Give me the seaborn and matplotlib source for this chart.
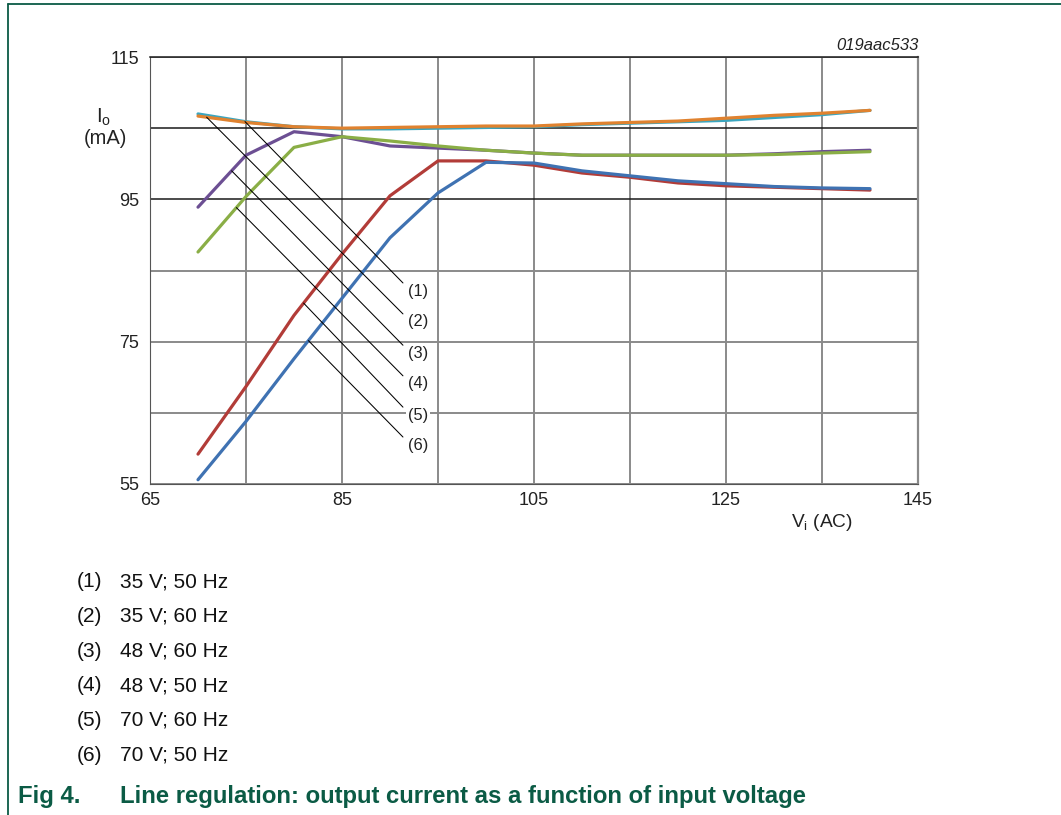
# Line regulation chart: output current vs input voltage for six supply settings
import numpy as np
import pandas as pd
import matplotlib.pyplot as plt
from matplotlib.lines import Line2D
import seaborn as sns

# Input voltage (V AC)
vin = [70, 75, 80, 85, 90, 95, 100, 105, 110, 115, 120, 125, 130, 135, 140]

# Output current (mA) for each curve
io_35v_50hz = [107.0, 105.9, 105.2, 104.9, 104.9, 105.0, 105.1, 105.2, 105.5, 105.7, 105.9, 106.1, 106.5, 106.9, 107.5]
io_35v_60hz = [106.7, 105.8, 105.2, 105.0, 105.1, 105.2, 105.3, 105.3, 105.6, 105.8, 106.0, 106.4, 106.8, 107.1, 107.5]
io_48v_60hz = [93.9, 101.2, 104.5, 103.8, 102.5, 102.2, 101.9, 101.5, 101.2, 101.2, 101.2, 101.2, 101.4, 101.7, 101.9]
io_48v_50hz = [87.6, 95.4, 102.3, 103.8, 103.2, 102.5, 101.9, 101.5, 101.2, 101.2, 101.2, 101.2, 101.3, 101.5, 101.7]
io_70v_60hz = [59.2, 68.7, 78.7, 87.3, 95.5, 100.4, 100.4, 99.8, 98.7, 98.1, 97.3, 96.9, 96.7, 96.5, 96.3]
io_70v_50hz = [55.6, 63.8, 72.6, 81.1, 89.6, 95.9, 100.2, 100.1, 99.0, 98.3, 97.6, 97.2, 96.8, 96.6, 96.5]

labels = ["(1)", "(2)", "(3)", "(4)", "(5)", "(6)"]
conditions = ["35 V; 50 Hz", "35 V; 60 Hz", "48 V; 60 Hz", "48 V; 50 Hz", "70 V; 60 Hz", "70 V; 50 Hz"]
series = [io_35v_50hz, io_35v_60hz, io_48v_60hz, io_48v_50hz, io_70v_60hz, io_70v_50hz]
colors = ["#3aa6c0", "#e0822f", "#6c4f93", "#8aae46", "#b23c38", "#3f72b2"]

# Where each callout leader line touches its curve (V), and where it ends
leader_v = [74.9, 70.9, 73.5, 74.0, 81.0, 81.5]
leader_end_v = 91.35
leader_end_io = [83.25, 78.9, 74.5, 70.2, 65.8, 61.6]

# Long-form table for seaborn
df = pd.DataFrame({
    "vin": vin * len(series),
    "io": np.concatenate(series),
    "curve": np.repeat(labels, len(vin)),
})

sns.set_style("white")
plt.rcParams["font.family"] = ["Liberation Sans", "DejaVu Sans"]
plt.rcParams["mathtext.fontset"] = "custom"
plt.rcParams["mathtext.rm"] = "Liberation Sans"
plt.rcParams["mathtext.it"] = "Liberation Sans:italic"

fig = plt.figure(figsize=(10.61, 8.15), dpi=100)
ax = fig.add_axes([150 / 1061, 1 - 484 / 815, 768 / 1061, 427 / 815])

# Curves
sns.lineplot(data=df, x="vin", y="io", hue="curve", palette=dict(zip(labels, colors)),
             linewidth=2.3, legend=False, ax=ax, zorder=3)

# Axes, ticks and grid
ax.set_xlim(65, 145)
ax.set_ylim(55, 115)
xt = np.arange(65, 146, 10)
yt = np.arange(55, 116, 10)
ax.set_xticks(xt)
ax.set_yticks(yt)
ax.set_xticklabels([str(v) if (v - 65) % 20 == 0 else "" for v in xt])
ax.set_yticklabels([str(v) if (v - 55) % 20 == 0 else "" for v in yt])
ax.tick_params(length=0, labelsize=13, colors="#222222")
ax.tick_params(axis="y", pad=8)
ax.tick_params(axis="x", pad=6)
ax.set_xlabel("")
ax.set_ylabel("")
ax.grid(True, color="#8a8a8a", linewidth=1.4)
for val, gl in zip(yt, ax.get_ygridlines()):
    if val in (95, 105):
        gl.set_color("#1a1a1a")
        gl.set_linewidth(1.1)
ax.set_axisbelow(True)
ax.spines["top"].set_color("#1a1a1a")
ax.spines["top"].set_linewidth(1.1)
ax.spines["left"].set_color("#555555")
ax.spines["bottom"].set_color("#555555")
ax.spines["right"].set_color("#8a8a8a")
ax.spines["right"].set_linewidth(1.6)

# Callout leader lines and numbers
for lab, vals, lv, ey in zip(labels, series, leader_v, leader_end_io):
    sy = np.interp(lv, vin, vals)
    ax.plot([lv, leader_end_v], [sy, ey], color="black", linewidth=0.75, zorder=4)
    ax.annotate(lab, xy=(leader_end_v, ey), xytext=(3.6, -5.8), textcoords="offset points",
                ha="left", va="center", fontsize=11.8, color="#222222", zorder=5,
                bbox=dict(boxstyle="square,pad=0.12", fc="white", ec="none"))

# Axis labels
ax.text(-0.0600, 0.858, "I$_\\mathrm{o}$", transform=ax.transAxes, ha="center", va="center",
        fontsize=14.5, color="#222222")
ax.text(-0.0586, 0.809, "(mA)", transform=ax.transAxes, ha="center", va="center",
        fontsize=14.5, color="#222222")
ax.text(0.875, -0.090, "V$_\\mathrm{i}$ (AC)", transform=ax.transAxes, ha="center", va="center",
        fontsize=13.8, color="#222222")
ax.text(1.001, 1.028, "019aac533", transform=ax.transAxes, ha="right", va="center",
        fontsize=12, style="italic", color="#222222")

# Key below the chart
for i, (lab, cond) in enumerate(zip(labels, conditions)):
    y = 1 - (581.7 + 34.7 * i) / 815
    fig.text(77 / 1061, y, lab, ha="left", va="center", fontsize=15, color="#111111")
    fig.text(120 / 1061, y, cond, ha="left", va="center", fontsize=15, color="#111111")

# Figure caption
green = "#0b5b45"
fig.text(18 / 1061, 1 - 796 / 815, "Fig 4.", ha="left", va="center", fontsize=17.2,
         fontweight="bold", color=green)
fig.text(120 / 1061, 1 - 796 / 815, "Line regulation: output current as a function of input voltage",
         ha="left", va="center", fontsize=17.2, fontweight="bold", color=green)

# Page frame lines (top and left)
fig.add_artist(Line2D([7.5 / 1061, 1], [1 - 4.3 / 815, 1 - 4.3 / 815], transform=fig.transFigure,
                      color=green, linewidth=1.3))
fig.add_artist(Line2D([7.5 / 1061, 7.5 / 1061], [0, 1 - 4.3 / 815], transform=fig.transFigure,
                      color=green, linewidth=1.3))

fig.savefig("out.png", dpi=100)
